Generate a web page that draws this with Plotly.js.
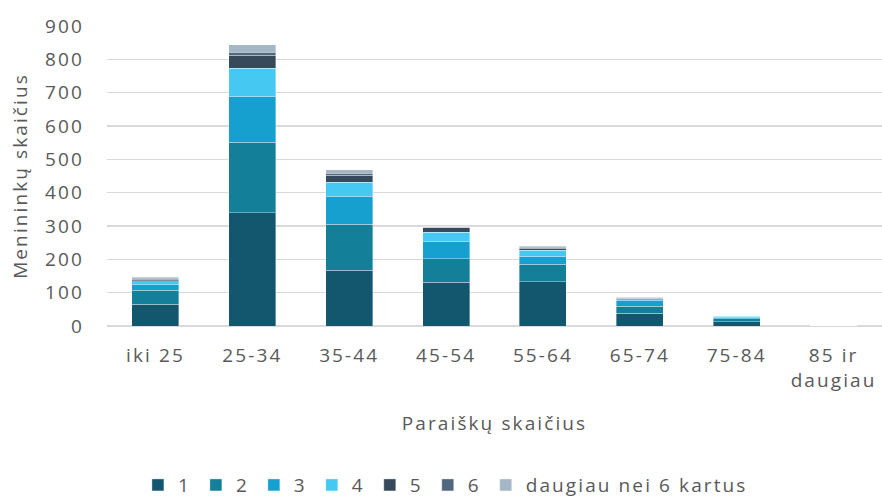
<!DOCTYPE html>
<html>
<head>
<meta charset="utf-8">
<script src="https://cdn.plot.ly/plotly-3.0.1.min.js"></script>
<style>
html,body{margin:0;padding:0;background:#fff;}
#chart{width:882px;height:497px;}
text{letter-spacing:2.1px;}
</style>
</head>
<body>
<div id="chart"></div>
<script>
const categories = ["iki 25", "25-34", "35-44", "45-54", "55-64", "65-74", "75-84", "85 ir<br>daugiau"];
const seriesNames = ["1", "2", "3", "4", "5", "6", "daugiau nei 6 kartus"];
const s1 = [65, 340, 167, 131, 133, 38, 13, 1];
const s2 = [42, 212, 138, 71, 53, 21, 9, 1];
const s3 = [17, 138, 85, 53, 24, 17, 5, 0.5];
const s4 = [12, 84, 42, 27, 18, 6, 3, 0.3];
const s5 = [5, 38, 21, 13, 6, 2, 1, 0.2];
const s6 = [2, 10, 6, 2, 3, 1, 0, 0];
const s7 = [3, 22, 10, 1, 3, 1, 0, 0];
const colors = ["#13576f", "#137f99", "#15a0d0", "#45c8f2", "#364a5b", "#52687e", "#a4b7c6"];
const values = [s1, s2, s3, s4, s5, s6, s7];

const traces = values.map((v, i) => ({
  type: "bar",
  name: seriesNames[i],
  x: categories,
  y: v,
  marker: {color: colors[i], line: {color: "rgba(255,255,255,0.45)", width: 0.8}},
  hoverinfo: "x+y+name"
}));

const fam = "'Open Sans', Roboto, sans-serif";
const txt = "#595959";

const layout = {
  width: 882, height: 497,
  barmode: "stack",
  bargap: 0.515,
  margin: {l: 107, r: 0, t: 26, b: 171, autoexpand: false},
  paper_bgcolor: "#fff", plot_bgcolor: "#fff",
  font: {family: fam, color: txt, size: 19},
  showlegend: true,
  legend: {orientation: "h", x: 0.505, xanchor: "center", xref: "container", y: 0.024, yanchor: "middle", yref: "container",
    font: {family: fam, size: 19, color: txt}, itemwidth: 30, traceorder: "normal"},
  xaxis: {
    type: "category",
    showgrid: false, zeroline: false, showline: false,
    ticks: "", ticklabelstandoff: 16,
    tickfont: {family: fam, size: 19, color: txt},
    title: {text: "Paraiškų skaičius", font: {family: fam, size: 19, color: txt}, standoff: 24}
  },
  yaxis: {
    range: [0, 900], dtick: 100, tick0: 0,
    showgrid: true, gridcolor: "#d9d9d9", gridwidth: 1.5,
    zeroline: true, zerolinecolor: "#d9d9d9", zerolinewidth: 1.5,
    showline: false, ticks: "", ticklabelstandoff: 22,
    tickfont: {family: fam, size: 19, color: txt},
    title: {text: "Menininkų skaičius", font: {family: fam, size: 19, color: txt}, standoff: 12}
  }
};

Plotly.newPlot("chart", traces, layout, {displayModeBar: false, staticPlot: true});
</script>
</body>
</html>
